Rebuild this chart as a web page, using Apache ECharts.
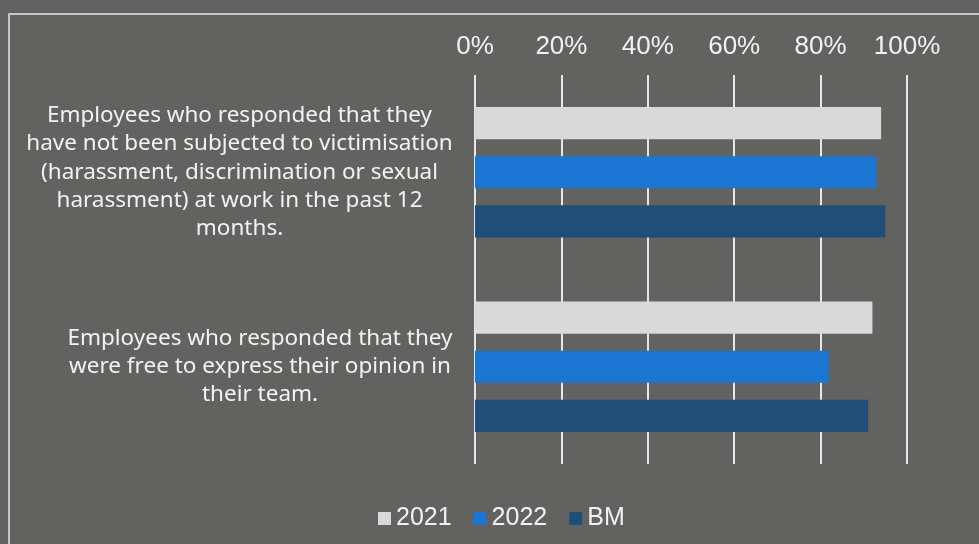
<!DOCTYPE html>
<html>
<head>
<meta charset="utf-8">
<script src="https://cdn.jsdelivr.net/npm/echarts@6/dist/echarts.min.js"></script>
<style>
  html, body { margin: 0; padding: 0; background: #626360; }
  #chart { width: 979px; height: 544px; }
</style>
</head>
<body>
<div id="chart"></div>
<script>
// categories (top to bottom)
var categories = [
  'Employees who responded that they\nhave not been subjected to victimisation\n(harassment, discrimination or sexual\nharassment) at work in the past 12\nmonths.',
  'Employees who responded that they\nwere free to express their opinion in\ntheir team.'
];
var seriesNames = ['2021', '2022', 'BM'];
var values2021 = [94, 92];
var values2022 = [93, 82];
var valuesBM = [95, 91];
var xTicks = [0, 20, 40, 60, 80, 100];

var colors = ['#d9d9d9', '#1a76d2', '#1f4e79'];
var allValues = [values2021, values2022, valuesBM];

var chart = echarts.init(document.getElementById('chart'));

var series = seriesNames.map(function (name, i) {
  return {
    name: name,
    type: 'bar',
    data: allValues[i],
    barGap: '53%',
    barCategoryGap: '33%',
    itemStyle: { color: colors[i] }
  };
});

var option = {
  backgroundColor: '#626360',
  animation: false,
  color: colors,
  graphic: [{
    type: 'rect',
    shape: { x: 9, y: 14, width: 1000, height: 600 },
    style: { fill: 'none', stroke: '#e8e8e8', lineWidth: 1.5 },
    silent: true
  }],
  grid: { left: 475, top: 75, right: 72, bottom: 80, containLabel: false },
  legend: {
    data: seriesNames,
    left: 373,
    top: 501,
    icon: 'rect',
    itemWidth: 13,
    itemHeight: 13,
    itemGap: 22,
    textStyle: { color: '#f2f2f2', fontSize: 25, fontFamily: 'Liberation Sans' }
  },
  xAxis: {
    type: 'value',
    position: 'top',
    min: xTicks[0],
    max: xTicks[xTicks.length - 1],
    interval: xTicks[1] - xTicks[0],
    axisLine: { show: false },
    axisTick: { show: false },
    axisLabel: {
      formatter: '{value}%',
      color: '#f2f2f2',
      fontSize: 26,
      fontFamily: 'Liberation Sans',
      margin: 15
    },
    splitLine: { lineStyle: { color: '#e6e6e6', width: 2 } }
  },
  yAxis: {
    type: 'category',
    inverse: true,
    data: categories,
    axisLine: { show: false },
    axisTick: { show: false },
    axisLabel: {
      align: 'center',
      margin: 215,
      color: '#f2f2f2',
      formatter: function (value, index) {
        var style = index === 0 ? 'a' : 'b';
        return value.split('\n').map(function (line) {
          return '{' + style + '|' + line + '}';
        }).join('\n');
      },
      rich: {
        a: { fontSize: 22.5, fontFamily: 'Noto Sans', color: '#f2f2f2', lineHeight: 28.3, padding: [0, 41, 0, 0] },
        b: { fontSize: 22.5, fontFamily: 'Noto Sans', color: '#f2f2f2', lineHeight: 28.3 }
      }
    }
  },
  series: series
};

chart.setOption(option);
</script>
</body>
</html>
